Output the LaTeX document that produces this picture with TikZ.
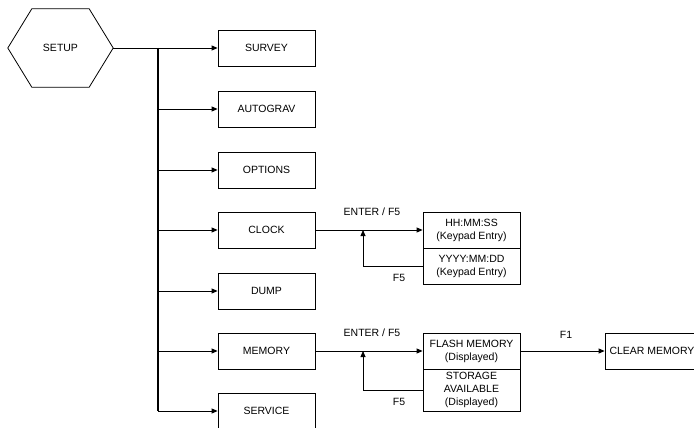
\documentclass[tikz,border=0pt]{standalone}
\usepackage{fontspec}
\setmainfont{Liberation Sans}
\usetikzlibrary{arrows.meta,calc}
\begin{document}
\begin{tikzpicture}[x=1pt,y=-1pt,
  font=\fontsize{10.5}{13}\selectfont,
  box/.style={draw, line width=0.8pt, minimum width=97pt, minimum height=36pt, inner sep=0pt, align=center},
  conn/.style={line width=0.8pt},
  arr/.style={conn, -{Triangle[length=6pt,width=5pt]}},
  lbl/.style={inner sep=0pt}]
\useasboundingbox (0,0) rectangle (694,428);
% SETUP hexagon
\node[minimum width=105pt, minimum height=78pt, inner sep=0pt] (setup) at (60.5,48) {SETUP};
\draw[line width=0.8pt] (setup.west) -- ($(setup.north west)+(24,0)$) -- ($(setup.north east)+(-24,0)$)
  -- (setup.east) -- ($(setup.south east)+(-24,0)$) -- ($(setup.south west)+(24,0)$) -- cycle;
% main boxes
\node[box] (survey)   at (266.5,48)  {SURVEY};
\node[box] (autograv) at (266.5,109) {AUTOGRAV};
\node[box] (options)  at (266.5,170) {OPTIONS};
\node[box] (clock)    at (266.5,230) {CLOCK};
\node[box] (dump)     at (266.5,291) {DUMP};
\node[box] (memory)   at (266.5,351) {MEMORY};
\node[box] (service)  at (266.5,411) {SERVICE};
% bus
\coordinate (bus) at (158,48);
\draw[conn] (setup.east) -- (bus);
\draw[line width=1.3pt] (bus) -- (bus |- service.west);
\draw[arr] (bus) -- (survey.west);
\foreach \n in {autograv,options,clock,dump,memory,service}
  \draw[arr] (bus |- \n.west) -- (\n.west);
% clock submenu
\node[box] (hms) at (471.5,230) {HH:MM:SS\\(Keypad Entry)};
\node[box] (ymd) at (471.5,266) {YYYY:MM:DD\\(Keypad Entry)};
\coordinate (cj) at (363,230);
\draw[arr] (clock.east) -- (hms.west);
\draw[arr] (ymd.west) -| (cj);
\node[lbl] (l1) at (372,212) {ENTER / F5};
\node[lbl] (l2) at (399,278) {F5};
% memory submenu
\node[box] (flash) at (471.5,351) {FLASH MEMORY\\(Displayed)};
\node[box, minimum height=42pt] (storage) at (471.5,390) {STORAGE\\AVAILABLE\\(Displayed)};
\coordinate (mj) at (363,351);
\draw[arr] (memory.east) -- (flash.west);
\draw[arr] (storage.west) -| (mj);
\node[lbl] (l3) at (372,333) {ENTER / F5};
\node[lbl] (l4) at (399,402) {F5};
\node[box, minimum width=94pt] (clear) at (652,351) {CLEAR MEMORY};
\draw[arr] (flash.east) -- (clear.west);
\node[lbl] (l5) at (566,335) {F1};
\end{tikzpicture}
\end{document}
